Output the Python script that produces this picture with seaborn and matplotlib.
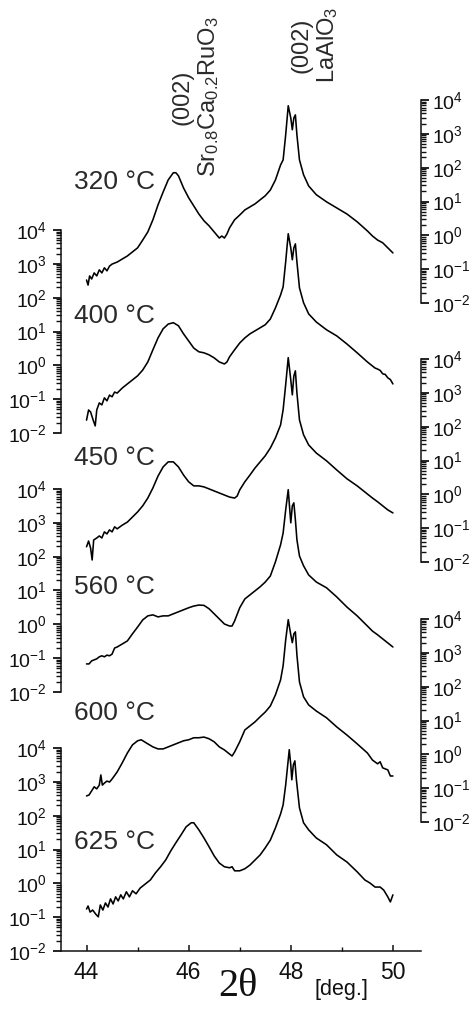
import numpy as np
import pandas as pd
import matplotlib
matplotlib.use("Agg")
import matplotlib.pyplot as plt
import matplotlib.ticker as mticker
import seaborn as sns

# ---------------- data (2theta in deg, log10 of intensity) ----------------
x_320 = [44.00, 44.03, 44.06, 44.10, 44.15, 44.20, 44.25, 44.30, 44.35, 44.40, 44.45, 44.50,
         44.60, 44.70, 44.80, 44.90, 45.00, 45.10, 45.20, 45.30, 45.40, 45.50, 45.60, 45.70,
         45.75, 45.80, 45.90, 46.00, 46.10, 46.20, 46.30, 46.40, 46.50, 46.60, 46.65, 46.70, 46.75,
         46.80, 46.90, 47.00, 47.10, 47.20, 47.30, 47.40, 47.50, 47.60, 47.70, 47.80, 47.85,
         47.90, 47.95, 48.00, 48.03, 48.06, 48.09, 48.12, 48.17, 48.25, 48.35, 48.50, 48.70,
         48.90, 49.10, 49.30, 49.50, 49.60, 49.70, 49.80, 49.90, 50.00]
logI_320 = [-1.32, -1.47, -1.20, -1.29, -1.11, -1.20, -1.02, -1.11, -0.96, -1.05, -0.91, -0.85,
            -0.79, -0.70, -0.61, -0.49, -0.37, -0.14, 0.10, 0.46, 0.90, 1.28, 1.64, 1.85,
            1.85, 1.76, 1.40, 1.11, 0.87, 0.63, 0.43, 0.28, 0.10, -0.08, -0.02, -0.08, 0.04,
            0.22, 0.46, 0.60, 0.75, 0.84, 0.93, 1.05, 1.17, 1.34, 1.64, 2.08, 2.23,
            2.97, 3.83, 3.47, 3.12, 3.47, 3.56, 2.97, 2.23, 1.79, 1.46, 1.20, 0.99,
            0.81, 0.63, 0.40, 0.13, -0.02, -0.14, -0.22, -0.37, -0.52]

x_400 = [44.00, 44.04, 44.08, 44.13, 44.17, 44.20, 44.25, 44.30, 44.35, 44.40, 44.45, 44.50,
         44.55, 44.60, 44.70, 44.80, 44.90, 45.00, 45.10, 45.20, 45.30, 45.40, 45.50, 45.60,
         45.70, 45.80, 45.90, 46.00, 46.10, 46.20, 46.30, 46.40, 46.50, 46.60, 46.70, 46.75,
         46.80, 46.90, 47.00, 47.10, 47.20, 47.30, 47.40, 47.50, 47.60, 47.70, 47.80, 47.85,
         47.90, 47.95, 48.00, 48.03, 48.06, 48.09, 48.12, 48.17, 48.25, 48.35, 48.50, 48.70,
         48.90, 49.10, 49.30, 49.50, 49.60, 49.65, 49.70, 49.75, 49.80, 49.85, 49.90, 49.95, 50.00]
logI_400 = [-1.62, -1.32, -1.38, -1.62, -1.79, -1.32, -1.11, -1.17, -0.96, -1.05, -0.88, -0.93,
            -0.79, -0.82, -0.67, -0.55, -0.43, -0.31, -0.14, 0.10, 0.46, 0.81, 1.08, 1.22,
            1.26, 1.17, 0.93, 0.72, 0.51, 0.40, 0.37, 0.31, 0.22, 0.10, 0.04, 0.10,
            0.25, 0.46, 0.66, 0.81, 0.93, 1.02, 1.11, 1.20, 1.37, 1.70, 2.08, 2.32,
            3.06, 3.89, 3.47, 3.12, 3.47, 3.59, 3.06, 2.29, 1.85, 1.52, 1.28, 1.05,
            0.87, 0.63, 0.37, 0.10, -0.02, -0.08, -0.11, -0.15, -0.25, -0.27, -0.37, -0.42, -0.55]

x_450 = [44.00, 44.04, 44.08, 44.11, 44.14, 44.20, 44.25, 44.30, 44.35, 44.40, 44.45, 44.50,
         44.55, 44.60, 44.70, 44.80, 44.90, 45.00, 45.10, 45.20, 45.30, 45.40, 45.50, 45.60,
         45.70, 45.80, 45.90, 46.00, 46.10, 46.20, 46.30, 46.40, 46.50, 46.60, 46.70, 46.80,
         46.90, 46.95, 47.00, 47.10, 47.20, 47.30, 47.40, 47.50, 47.60, 47.70, 47.80, 47.85,
         47.90, 47.95, 48.00, 48.03, 48.06, 48.09, 48.12, 48.17, 48.25, 48.35, 48.50, 48.70,
         48.90, 49.10, 49.30, 49.50, 49.60, 49.70, 49.80, 49.90, 50.00]
logI_450 = [-1.55, -1.38, -1.59, -1.94, -1.35, -1.29, -1.23, -1.29, -1.11, -1.17, -1.05, -1.11,
            -0.96, -1.02, -0.91, -0.82, -0.67, -0.52, -0.34, -0.11, 0.19, 0.54, 0.81, 0.96,
            0.96, 0.81, 0.57, 0.37, 0.25, 0.25, 0.22, 0.16, 0.10, 0.04, -0.02, -0.08,
            -0.11, -0.05, 0.13, 0.37, 0.57, 0.78, 0.96, 1.14, 1.37, 1.67, 2.05, 2.50,
            3.24, 4.04, 3.38, 2.94, 3.50, 3.65, 3.00, 2.20, 1.76, 1.46, 1.22, 0.99,
            0.72, 0.46, 0.25, 0.01, -0.11, -0.22, -0.34, -0.46, -0.55]

x_560 = [44.00, 44.05, 44.10, 44.15, 44.20, 44.25, 44.30, 44.35, 44.40, 44.45, 44.50, 44.55,
         44.60, 44.70, 44.80, 44.90, 45.00, 45.10, 45.20, 45.30, 45.40, 45.50, 45.60, 45.70,
         45.80, 45.90, 46.00, 46.10, 46.20, 46.30, 46.40, 46.50, 46.60, 46.70, 46.80, 46.85,
         46.90, 47.00, 47.10, 47.20, 47.30, 47.40, 47.50, 47.60, 47.70, 47.80, 47.85, 47.90,
         47.95, 48.00, 48.03, 48.06, 48.09, 48.12, 48.17, 48.25, 48.35, 48.50, 48.70, 48.90,
         49.10, 49.30, 49.50, 49.60, 49.70, 49.80, 49.90, 50.00]
logI_560 = [-1.17, -1.17, -1.08, -1.05, -1.02, -0.96, -0.93, -0.96, -0.91, -0.93, -0.88, -0.70,
            -0.67, -0.58, -0.49, -0.28, -0.08, 0.13, 0.25, 0.28, 0.22, 0.25, 0.25, 0.31,
            0.37, 0.43, 0.49, 0.54, 0.57, 0.56, 0.46, 0.31, 0.16, 0.01, -0.05, -0.05,
            0.10, 0.49, 0.75, 0.87, 0.99, 1.11, 1.25, 1.43, 1.85, 2.35, 2.70, 3.38,
            3.98, 3.00, 3.50, 3.59, 3.09, 2.50, 2.02, 1.73, 1.46, 1.25, 1.08, 0.81,
            0.51, 0.25, -0.05, -0.20, -0.31, -0.43, -0.55, -0.67]

x_600 = [44.00, 44.05, 44.10, 44.15, 44.20, 44.25, 44.28, 44.31, 44.35, 44.40, 44.45, 44.50,
         44.60, 44.70, 44.80, 44.90, 45.00, 45.07, 45.20, 45.30, 45.40, 45.50, 45.60, 45.70,
         45.80, 45.90, 46.00, 46.10, 46.20, 46.30, 46.40, 46.50, 46.60, 46.70, 46.80, 46.85,
         46.90, 47.00, 47.10, 47.20, 47.30, 47.40, 47.50, 47.60, 47.70, 47.80, 47.85, 47.90,
         47.95, 48.00, 48.03, 48.06, 48.09, 48.12, 48.17, 48.25, 48.35, 48.50, 48.70, 48.90,
         49.10, 49.30, 49.50, 49.60, 49.70, 49.75, 49.80, 49.90, 49.95, 50.00]
logI_600 = [-1.23, -1.20, -1.08, -0.96, -1.02, -0.91, -0.61, -0.91, -0.85, -0.79, -0.82, -0.73,
            -0.52, -0.25, 0.04, 0.28, 0.40, 0.43, 0.31, 0.22, 0.16, 0.16, 0.22, 0.28,
            0.34, 0.40, 0.43, 0.49, 0.49, 0.51, 0.46, 0.37, 0.22, 0.13, 0.01, -0.05,
            0.07, 0.37, 0.72, 0.84, 0.96, 1.11, 1.25, 1.43, 1.76, 2.20, 2.62, 3.38,
            3.98, 3.53, 3.30, 3.56, 3.62, 2.94, 2.14, 1.70, 1.46, 1.28, 1.08, 0.81,
            0.57, 0.31, 0.04, -0.17, -0.28, -0.22, -0.40, -0.46, -0.64, -0.64]

x_625 = [44.00, 44.03, 44.07, 44.12, 44.18, 44.23, 44.27, 44.32, 44.37, 44.42, 44.47, 44.52,
         44.57, 44.62, 44.67, 44.72, 44.78, 44.84, 44.90, 44.97, 45.05, 45.15, 45.25, 45.35,
         45.45, 45.55, 45.65, 45.75, 45.85, 45.95, 46.05, 46.10, 46.20, 46.30, 46.40, 46.50,
         46.60, 46.70, 46.80, 46.85, 46.90, 47.00, 47.10, 47.20, 47.30, 47.40, 47.50, 47.60,
         47.70, 47.80, 47.85, 47.90, 47.95, 47.97, 48.00, 48.02, 48.05, 48.08, 48.11, 48.17,
         48.25, 48.35, 48.50, 48.70, 48.90, 49.10, 49.30, 49.45, 49.55, 49.65, 49.75, 49.82,
         49.90, 49.95, 50.00]
logI_625 = [-0.76, -0.67, -0.85, -0.79, -0.91, -0.99, -0.64, -0.79, -0.58, -0.70, -0.46, -0.61,
            -0.40, -0.52, -0.34, -0.46, -0.25, -0.40, -0.22, -0.31, -0.14, -0.02, 0.10, 0.31,
            0.49, 0.69, 0.96, 1.20, 1.43, 1.67, 1.79, 1.79, 1.58, 1.34, 1.08, 0.81,
            0.60, 0.49, 0.46, 0.49, 0.37, 0.37, 0.43, 0.54, 0.69, 0.84, 1.05, 1.28,
            1.64, 2.05, 2.32, 2.91, 3.65, 3.95, 3.50, 3.06, 3.50, 3.62, 3.06, 2.23,
            1.79, 1.58, 1.34, 1.14, 0.84, 0.63, 0.34, 0.10, 0.01, -0.11, -0.11, -0.20,
            -0.40, -0.55, -0.34]

temperatures = ["320 °C", "400 °C", "450 °C", "560 °C", "600 °C", "625 °C"]
x_series = [x_320, x_400, x_450, x_560, x_600, x_625]
y_series = [logI_320, logI_400, logI_450, logI_560, logI_600, logI_625]
x_ticks = [44, 46, 48, 50]
x_minor_ticks = [45, 47, 49]
y_decades = [1e-2, 1e-1, 1e0, 1e1, 1e2, 1e3, 1e4]
y_minor = [k * d for d in y_decades[:-1] for k in range(2, 10)]

# ---------------- style ----------------
sns.set_theme(style="ticks")
plt.rcParams["font.family"] = ["Liberation Sans", "DejaVu Sans"]
plt.rcParams["mathtext.default"] = "regular"
plt.rcParams["axes.unicode_minus"] = False

W, H = 470, 1009
fig = plt.figure(figsize=(W / 100, H / 100), dpi=100)
fig.patch.set_facecolor("white")

ax_left_px, ax_right_px = 61, 421
ax_h_px = 203
bottoms_px = [303, 433, 562, 692, 822, 951]
sides = ["right", "left", "right", "left", "right", "left"]
label_y_px = [182, 316, 458, 587, 713, 842]
ink = "#111111"

for i, (temp, xs, ys) in enumerate(zip(temperatures, x_series, y_series)):
    b = bottoms_px[i]
    rect = [ax_left_px / W, 1 - b / H, (ax_right_px - ax_left_px) / W, ax_h_px / H]
    ax = fig.add_axes(rect)
    ax.set_facecolor("none")
    ax.set_yscale("log")
    df = pd.DataFrame({"two_theta": xs, "I": 10 ** np.asarray(ys)})
    sns.lineplot(data=df, x="two_theta", y="I", ax=ax, color="black",
                 linewidth=1.15, clip_on=False, estimator=None)
    ax.set_xlim(43.5, 50.55)
    ax.set_ylim(1e-2, 1e4)
    ax.set_xlabel("")
    ax.set_ylabel("")
    side = sides[i]
    for s in ["top", "bottom", "left", "right"]:
        ax.spines[s].set_visible(False)
    ax.spines[side].set_visible(True)
    ax.spines[side].set_linewidth(1.1)
    ax.spines[side].set_color(ink)
    ax.yaxis.set_ticks_position(side)
    ax.yaxis.set_major_locator(mticker.FixedLocator(y_decades))
    ax.yaxis.set_minor_locator(mticker.FixedLocator(y_minor))
    ax.yaxis.set_major_formatter(mticker.LogFormatterSciNotation())
    ax.yaxis.set_minor_formatter(mticker.NullFormatter())
    pad = 4.5 if side == "left" else 2.5
    ax.tick_params(axis="y", which="major", direction="out", length=5.5, width=1.3,
                   color=ink, labelsize=14, labelcolor=ink, pad=pad)
    ax.tick_params(axis="y", which="minor", direction="out", length=3.5, width=1.0,
                   color=ink, left=(side == "left"), right=(side == "right"))
    if i == len(temperatures) - 1:
        ax.spines["bottom"].set_visible(True)
        ax.spines["bottom"].set_linewidth(1.1)
        ax.spines["bottom"].set_color(ink)
        ax.set_xticks(x_ticks)
        ax.xaxis.set_minor_locator(mticker.FixedLocator(x_minor_ticks))
        ax.tick_params(axis="x", which="major", direction="in", length=4, width=1.1,
                       color=ink, labelsize=16.5, labelcolor=ink, pad=7)
        ax.tick_params(axis="x", which="minor", direction="in", length=3, width=1.0, color=ink)
    else:
        ax.xaxis.set_visible(False)
    fig.text(74 / W, 1 - label_y_px[i] / H, temp, ha="left", va="center",
             fontsize=19, color="#2a2a2a")

# peak annotations
fig.text(196 / W, 1 - 97 / H, "(002)\n$Sr_{0.8}Ca_{0.2}RuO_3$", rotation=90,
         ha="center", va="center", multialignment="center", fontsize=17, color="#2a2a2a",
         linespacing=1.15)
fig.text(315 / W, 1 - 45 / H, "(002)\n$LaAlO_3$", rotation=90,
         ha="center", va="center", multialignment="center", fontsize=17, color="#2a2a2a",
         linespacing=1.15)

# x label
fig.text(238 / W, 1 - 987 / H, "2θ", ha="center", va="center",
         family=["Liberation Serif", "DejaVu Serif"], fontsize=29, color=ink)
fig.text(341 / W, 1 - 989 / H, "[deg.]", ha="center", va="center", fontsize=15.5, color=ink)

fig.savefig("out.png", dpi=100, facecolor="white")
